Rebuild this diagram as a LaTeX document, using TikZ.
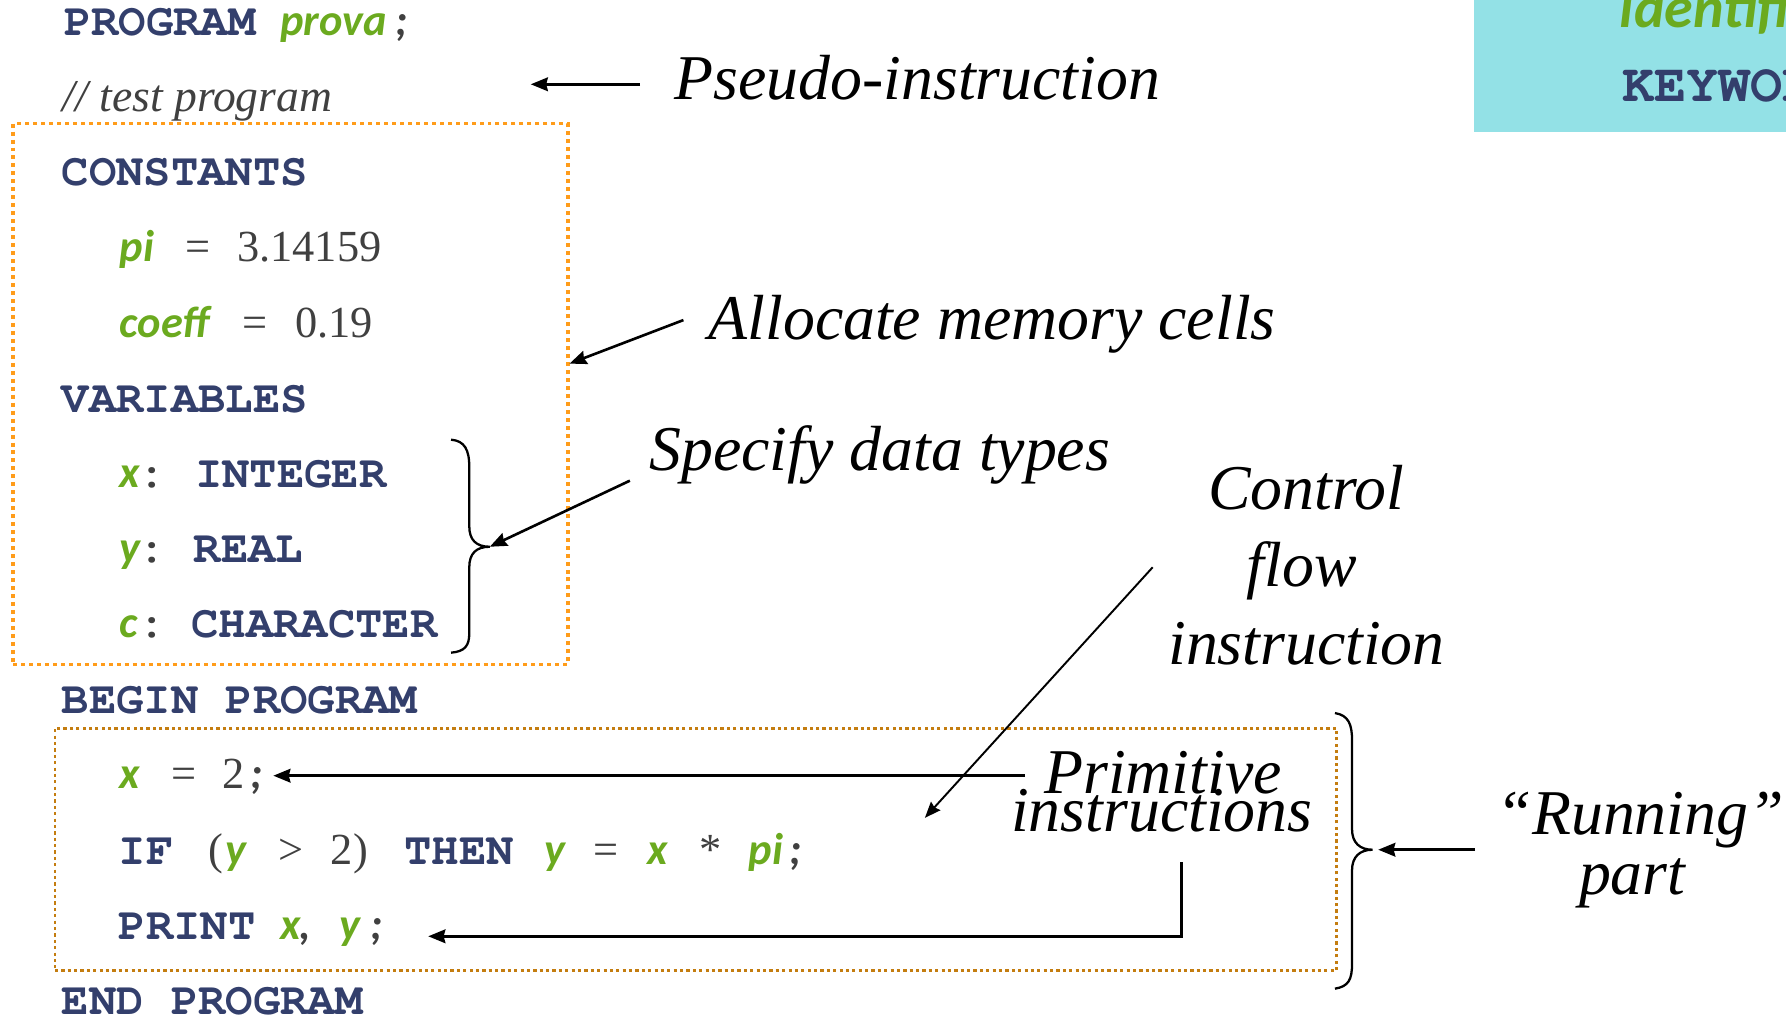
\documentclass[tikz,border=0pt]{standalone}
\usepackage[T1]{fontenc}
\usepackage{fontspec}
\setmainfont{Liberation Serif}
\newfontfamily\idfont{Carlito}
\newcommand\kwf{\fontencoding{T1}\fontfamily{pcr}\fontseries{b}\fontshape{n}\selectfont}
\usetikzlibrary{arrows.meta,calc}
\definecolor{kwcol}{HTML}{333F6C}
\definecolor{idcol}{HTML}{6BAA1F}
\definecolor{txcol}{HTML}{404040}
\definecolor{boxa}{HTML}{FF9C1A}
\definecolor{boxb}{HTML}{C47D10}
\definecolor{hdrfill}{HTML}{93E1E6}
\tikzset{
  kwn/.style={anchor=base west, inner sep=0pt, text=kwcol, font=\kwf\fontsize{40}{40}\selectfont},
  coln/.style={kwn, text=txcol},
  idn/.style={anchor=base west, inner sep=0pt, text=idcol, font=\idfont\bfseries\itshape\fontsize{39}{39}\selectfont},
  pun/.style={idn, text=txcol},
  txn/.style={anchor=base west, inner sep=0pt, text=txcol, font=\fontsize{39}{39}\selectfont},
  note/.style={anchor=base, inner sep=0pt, text=black, font=\itshape\fontsize{56}{56}\selectfont},
  arr/.style={line width=2.3pt, -{Stealth[length=15pt,width=12pt,inset=1.5pt]}},
  bracel/.style={line width=2pt},
  boxA/.style={draw=boxa, line width=3pt, dash pattern=on 3.5pt off 3.5pt, anchor=north west, inner sep=0pt},
  boxB/.style={draw=boxb, line width=2.5pt, dash pattern=on 2.8pt off 2.8pt, anchor=north west, inner sep=0pt},
}
\begin{document}
\begin{tikzpicture}[x=1pt,y=-1pt]
\useasboundingbox (0,0) rectangle (1568,892);

% header box (top right)
\fill[hdrfill] (1294,0) rectangle (1568,116);
\begin{scope}
  \clip (1294,0) rectangle (1568,116);
  \node[idn, font=\idfont\bfseries\itshape\fontsize{51}{51}\selectfont] (hdrid) at (1422,24) {identifiers};
  \node[kwn, font=\kwf\fontsize{47}{47}\selectfont] (hdrkw) at (1424,89) {KEYWORDS};
\end{scope}

% boxes
\node[boxA, minimum width=487pt, minimum height=475pt] (decl) at (10,107) {};
\node[boxB, minimum width=1125pt, minimum height=213pt] (run) at (47,638) {};

% code
\node[kwn] (prog) at (56,31) {PROGRAM};
\node[idn] (prova) at (246,31) {prova};
\node[pun] (sc0) at (347,31) {;};
\node[txn, font=\itshape\fontsize{40}{40}\selectfont] (cmt) at (55,98) {// test program};

\node[kwn] (cons) at (54,163) {CONSTANTS};
\node[idn] (pia) at (105,230) {pi};
\node[txn] (eqa) at (163,230) {=};
\node[txn] (va) at (208,230) {3.14159};
\node[idn] (coef) at (105,296) {coeff};
\node[txn] (eqb) at (213,296) {=};
\node[txn] (vb) at (259,296) {0.19};

\node[kwn] (vars) at (54,362) {VARIABLES};
\node[idn] (vx) at (105,428) {x};
\node[coln] (ca) at (121,428) {:};
\node[kwn] (tint) at (171,428) {INTEGER};
\node[idn] (vy) at (105,494) {y};
\node[coln] (cb) at (121,494) {:};
\node[kwn] (treal) at (170,494) {REAL};
\node[idn] (vc) at (105,560) {c};
\node[coln] (cc) at (121,560) {:};
\node[kwn] (tchar) at (168,560) {CHARACTER};

\node[kwn] (beg) at (54,626) {BEGIN PROGRAM};

\node[idn] (sx) at (105,692) {x};
\node[txn] (seq) at (150,692) {=};
\node[txn] (stwo) at (195,692) {2};
\node[pun] (ssc) at (220,692) {;};

\node[kwn] (kif) at (104,759) {IF};
\node[txn] (lp) at (183,759) {(};
\node[idn] (iy) at (198,759) {y};
\node[txn] (gt) at (244,759) {>};
\node[txn] (itwo) at (290,759) {2};
\node[txn] (rp) at (310,759) {)};
\node[kwn] (kthen) at (355,759) {THEN};
\node[idn] (ty) at (478,759) {y};
\node[txn] (teq) at (521,759) {=};
\node[idn] (tx) at (568,759) {x};
\node[txn] (ast) at (614,759) {*};
\node[idn] (tpi) at (657,759) {pi};
\node[pun] (tsc) at (693,759) {;};

\node[kwn] (kprint) at (104,825) {PRINT};
\node[idn] (px) at (246,825) {x};
\node[pun] (pc) at (263,825) {,};
\node[idn] (py) at (298,825) {y};
\node[pun] (psc) at (325,825) {;};

\node[kwn] (endp) at (54,891) {END PROGRAM};

% annotations
\node[note, anchor=base west] (pseudo) at (592,87) {Pseudo-instruction};
\node[note, anchor=base west] (alloc) at (622,298) {Allocate memory cells};
\node[note, anchor=base west] (spec) at (570,413) {Specify data types};
\node[note] (ctrla) at (1147,447) {Control};
\node[note] (ctrlb) at (1143,515) {flow};
\node[note] (ctrlc) at (1147,583) {instruction};
\node[note] (prima) at (1021,697) {Primitive};
\node[note] (primb) at (1020,730) {instructions};
\node[note] (runa) at (1440,733) {``Running''};
\node[note] (runb) at (1433,785) {part};

% braces
\coordinate (tipa) at (430,480);
\draw[bracel] (396,386) .. controls (408,387) and (412,395) .. (412,410)
  -- (412,462) .. controls (412,474) and (418,480) .. (tipa)
  .. controls (418,480) and (412,486) .. (412,498)
  -- (412,556) .. controls (412,567) and (408,572) .. (396,573);
\coordinate (tipb) at (1205,746);
\draw[bracel] (1172,626) .. controls (1184,628) and (1187,636) .. (1187,650)
  -- (1187,728) .. controls (1187,740) and (1194,746) .. (tipb)
  .. controls (1194,746) and (1187,752) .. (1187,764)
  -- (1187,846) .. controls (1187,860) and (1184,866) .. (1172,868);

% connectors
\coordinate (pseudoEnd) at (466,74);
\draw[arr] ([shift={(-30,-13)}]pseudo.base west) -- (pseudoEnd);
\draw[arr] ([shift={(-22,-17)}]alloc.base west) -- ($(decl.north east)!0.444!(decl.south east)$);
\draw[arr] ([shift={(-17,9)}]spec.base west) -- (tipa);
\coordinate (ctrlEnd) at (812,718);
\draw[line width=1.7pt, -{Stealth[length=14pt,width=11pt,inset=1.5pt]}] ([shift={(-131,-17)}]ctrlb.base) -- (ctrlEnd);
\draw[arr] ([shift={(-121,-16)}]prima.base) -- ([shift={(20,-11)}]ssc.base west);
\draw[arr] ([shift={(17,27)}]primb.base) |- ([shift={(51,-3)}]psc.base west);
\draw[arr] ([shift={(-145,13)}]runa.base) -- ([xshift=5pt]tipb);
\end{tikzpicture}
\end{document}
